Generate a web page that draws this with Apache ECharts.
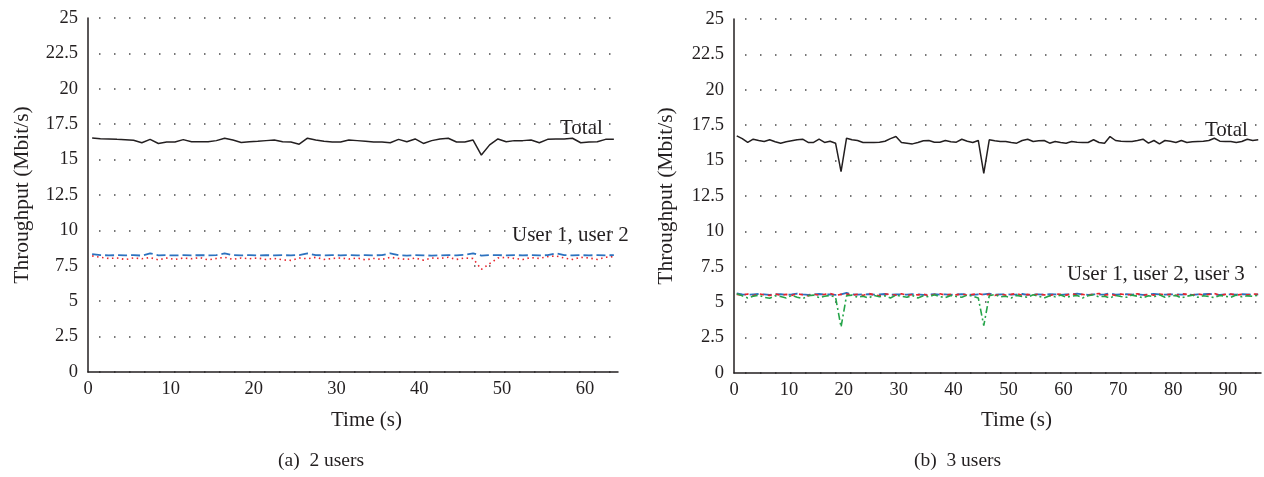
<!DOCTYPE html>
<html>
<head>
<meta charset="utf-8">
<script src="https://cdn.jsdelivr.net/npm/echarts@6/dist/echarts.min.js"></script>
<style>
html,body{margin:0;padding:0;background:#fff;}
#chart{width:1264px;height:477px;}
</style>
</head>
<body>
<div id="chart"></div>
<script>
// ---------- Data: (a) 2 users, 64 one-second samples ----------
const totalA = [
  16.53,16.48,16.46,16.43,16.41,16.36,16.19,16.43,16.14,16.24,
  16.24,16.41,16.26,16.26,16.26,16.34,16.51,16.38,16.21,16.26,
  16.29,16.34,16.38,16.26,16.24,16.09,16.51,16.38,16.29,16.24,
  16.24,16.38,16.34,16.29,16.24,16.24,16.19,16.43,16.26,16.46,
  16.14,16.34,16.46,16.51,16.24,16.24,16.38,15.32,16.04,16.46,
  16.26,16.34,16.34,16.38,16.19,16.43,16.46,16.46,16.51,16.19,
  16.24,16.26,16.43,16.43
];
const user1A = [
  8.33,8.25,8.24,8.25,8.24,8.25,8.22,8.38,8.24,8.25,
  8.23,8.25,8.24,8.25,8.24,8.26,8.38,8.25,8.24,8.25,
  8.24,8.25,8.24,8.25,8.24,8.26,8.37,8.25,8.24,8.25,
  8.24,8.25,8.24,8.25,8.24,8.25,8.38,8.25,8.22,8.25,
  8.24,8.22,8.24,8.25,8.24,8.28,8.38,8.22,8.26,8.25,
  8.24,8.25,8.24,8.25,8.24,8.25,8.38,8.25,8.24,8.25,
  8.24,8.25,8.24,8.25
];
const user2A = [
  8.20,8.10,8.02,8.05,7.95,8.05,8.00,8.08,7.92,8.05,
  7.95,8.05,8.00,8.08,7.92,8.02,8.10,7.95,8.05,8.00,
  8.05,7.95,8.02,7.92,7.88,8.05,8.00,8.10,7.95,8.02,
  8.05,7.98,8.05,7.92,8.02,7.95,8.10,8.02,7.95,8.05,
  7.90,8.05,8.02,8.10,7.95,8.05,8.02,7.25,7.65,8.05,
  8.10,8.02,7.95,8.08,8.02,8.15,8.20,8.05,7.95,8.10,
  8.05,7.95,8.10,8.15
];

// ---------- Data: (b) 3 users, 96 one-second samples ----------
const totalB = [
  16.75,16.55,16.28,16.51,16.42,16.35,16.47,16.33,16.23,16.33,
  16.40,16.47,16.51,16.28,16.28,16.51,16.28,16.37,16.23,14.22,
  16.58,16.47,16.42,16.28,16.28,16.28,16.30,16.37,16.55,16.70,
  16.28,16.23,16.18,16.28,16.40,16.42,16.30,16.30,16.42,16.33,
  16.30,16.51,16.37,16.28,16.42,14.10,16.47,16.40,16.35,16.35,
  16.28,16.23,16.42,16.51,16.35,16.40,16.42,16.23,16.35,16.28,
  16.23,16.35,16.30,16.28,16.28,16.47,16.28,16.23,16.70,16.42,
  16.37,16.35,16.35,16.42,16.51,16.23,16.42,16.18,16.42,16.37,
  16.28,16.42,16.28,16.33,16.35,16.37,16.42,16.58,16.37,16.35,
  16.35,16.28,16.35,16.51,16.42,16.47
];
const user1B = [
  5.62,5.55,5.52,5.55,5.58,5.55,5.52,5.55,5.56,5.53,
  5.55,5.60,5.55,5.52,5.55,5.58,5.54,5.55,5.52,5.55,
  5.66,5.55,5.53,5.55,5.56,5.54,5.55,5.58,5.52,5.55,
  5.55,5.53,5.56,5.55,5.52,5.55,5.56,5.54,5.55,5.52,
  5.55,5.56,5.54,5.52,5.55,5.55,5.60,5.53,5.55,5.56,
  5.54,5.55,5.58,5.52,5.55,5.55,5.54,5.56,5.55,5.52,
  5.55,5.56,5.60,5.55,5.52,5.55,5.54,5.55,5.62,5.53,
  5.55,5.56,5.54,5.55,5.52,5.55,5.58,5.55,5.53,5.55,
  5.56,5.54,5.55,5.52,5.55,5.56,5.58,5.55,5.52,5.55,
  5.55,5.54,5.56,5.55,5.52,5.55
];
const user2B = [
  5.55,5.50,5.58,5.45,5.60,5.52,5.48,5.58,5.50,5.55,
  5.48,5.60,5.52,5.45,5.58,5.50,5.55,5.62,5.48,5.55,
  5.58,5.50,5.55,5.48,5.62,5.52,5.45,5.58,5.55,5.50,
  5.60,5.48,5.55,5.52,5.58,5.45,5.55,5.60,5.50,5.55,
  5.52,5.58,5.48,5.55,5.60,5.52,5.55,5.48,5.58,5.50,
  5.55,5.62,5.48,5.55,5.50,5.58,5.52,5.45,5.58,5.55,
  5.50,5.60,5.52,5.55,5.48,5.58,5.62,5.50,5.55,5.48,
  5.58,5.52,5.55,5.60,5.48,5.55,5.50,5.58,5.52,5.55,
  5.48,5.60,5.55,5.50,5.58,5.52,5.55,5.62,5.48,5.55,
  5.58,5.50,5.55,5.52,5.58,5.55
];
const user3B = [
  5.60,5.45,5.30,5.42,5.50,5.35,5.28,5.45,5.40,5.30,
  5.48,5.35,5.25,5.45,5.50,5.32,5.42,5.48,5.35,3.25,
  5.45,5.50,5.35,5.42,5.30,5.48,5.38,5.45,5.30,5.50,
  5.42,5.35,5.48,5.30,5.45,5.38,5.52,5.40,5.32,5.48,
  5.40,5.35,5.50,5.42,5.30,3.35,5.45,5.55,5.38,5.42,
  5.30,5.48,5.40,5.35,5.52,5.42,5.30,5.45,5.38,5.50,
  5.35,5.42,5.48,5.30,5.45,5.52,5.38,5.42,5.30,5.48,
  5.40,5.35,5.50,5.42,5.30,5.45,5.38,5.52,5.35,5.42,
  5.48,5.30,5.42,5.50,5.35,5.45,5.40,5.32,5.48,5.42,
  5.35,5.50,5.38,5.45,5.42,5.50
];

// sample (second) categories
const secondsA = totalA.map((_, i) => String(i + 1));
const secondsB = totalB.map((_, i) => String(i + 1));

// axis settings
const yMin = 0, yMax = 25, yStep = 2.5;
const xStepTime = 10;
const xMaxA = 64, xMaxB = 96;

// labels
const yTitle = 'Throughput (Mbit/s)';
const xTitle = 'Time (s)';
const captionA = '(a)  2 users';
const captionB = '(b)  3 users';
const totalLabel = 'Total';
const usersLabelA = 'User 1, user 2';
const usersLabelB = 'User 1, user 2, user 3';

// ---------- styling ----------
const FONT = '"Liberation Serif", "DejaVu Serif", serif';
const INK = '#231f20';
const BLUE = '#2d72bf';
const RED = '#e8242c';
const GREEN = '#25a449';

function valueXAxis(gridIndex, max) {
  return {
    gridIndex, type: 'value', min: 0, max, interval: xStepTime,
    axisLine: { show: true, onZero: false, lineStyle: { color: INK, width: 1.5 } },
    axisTick: { show: false },
    splitLine: { show: false },
    axisLabel: {
      color: INK, fontFamily: FONT, fontSize: 18.5, margin: 8,
      formatter: v => (v % xStepTime === 0 ? String(v) : '')
    }
  };
}
function catXAxis(gridIndex, data) {
  return { gridIndex, type: 'category', data, boundaryGap: true, show: false };
}
function yAxis(gridIndex, gap) {
  return {
    gridIndex, type: 'value', min: yMin, max: yMax, interval: yStep,
    name: yTitle, nameLocation: 'middle', nameGap: gap, nameRotate: 90,
    nameTextStyle: { color: INK, fontFamily: FONT, fontSize: 21.5 },
    axisLine: { show: true, lineStyle: { color: INK, width: 1.5 } },
    axisTick: { show: false },
    axisLabel: { color: INK, fontFamily: FONT, fontSize: 18.5, margin: 10 },
    splitLine: { show: true, lineStyle: { color: '#4a4a4a', width: 1.5, type: [1.5, 13.5], dashOffset: -11 } }
  };
}
function line(name, data, xAxisIndex, yAxisIndex, color, type, width) {
  return {
    name, type: 'line', data, xAxisIndex, yAxisIndex,
    symbol: 'none', smooth: false, silent: true,
    lineStyle: { color, type, width }
  };
}

const chart = echarts.init(document.getElementById('chart'), null, { renderer: 'canvas' });
const option = {
  animation: false,
  backgroundColor: '#fff',
  grid: [
    { left: 88, top: 18, width: 530, height: 354 },
    { left: 734, top: 19, width: 530, height: 354 }
  ],
  xAxis: [
    valueXAxis(0, xMaxA), catXAxis(0, secondsA),
    valueXAxis(1, xMaxB), catXAxis(1, secondsB)
  ],
  yAxis: [ yAxis(0, 55), yAxis(1, 57) ],
  series: [
    line('Total', totalA, 1, 0, INK, 'solid', 1.5),
    line('User 2', user2A, 1, 0, RED, [1.5, 3.5], 1.6),
    line('User 1', user1A, 1, 0, BLUE, [9, 4], 1.8),
    line('Total', totalB, 3, 1, INK, 'solid', 1.5),
    line('User 1', user1B, 3, 1, BLUE, [9, 4], 1.8),
    line('User 2', user2B, 3, 1, RED, [4, 4], 1.6),
    line('User 3', user3B, 3, 1, GREEN, [7, 3, 2, 3], 1.6)
  ],
  graphic: [
    { type: 'text', left: 560, top: 118, style: { text: totalLabel, font: '21px ' + FONT, fill: INK } },
    { type: 'text', left: 512, top: 225, style: { text: usersLabelA, font: '21px ' + FONT, fill: INK } },
    { type: 'text', left: 1205, top: 120, style: { text: totalLabel, font: '21px ' + FONT, fill: INK } },
    { type: 'text', left: 1067, top: 264, style: { text: usersLabelB, font: '21px ' + FONT, fill: INK } },
    { type: 'text', left: 331, top: 410, style: { text: xTitle, font: '21px ' + FONT, fill: INK } },
    { type: 'text', left: 981, top: 410, style: { text: xTitle, font: '21px ' + FONT, fill: INK } },
    { type: 'text', left: 278, top: 451, style: { text: captionA, font: '19.5px ' + FONT, fill: INK } },
    { type: 'text', left: 914, top: 451, style: { text: captionB, font: '19.5px ' + FONT, fill: INK } }
  ]
};
chart.setOption(option);
</script>
</body>
</html>
